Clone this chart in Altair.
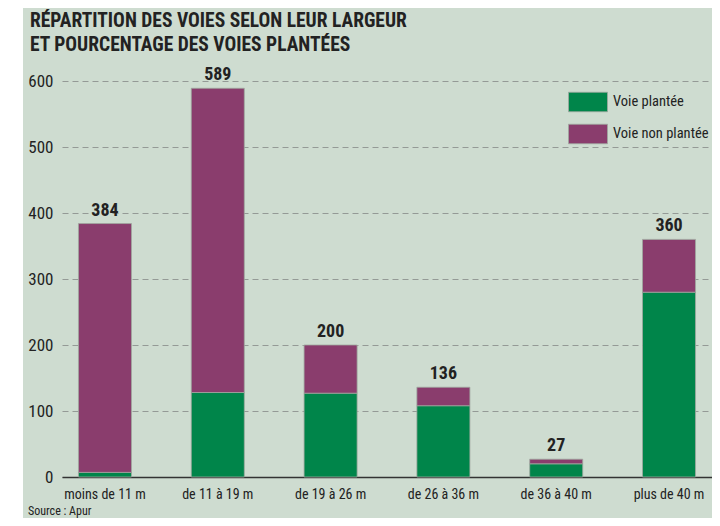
import altair as alt
import pandas as pd

categories = ["moins de 11 m", "de 11 à 19 m", "de 19 à 26 m", "de 26 à 36 m", "de 36 à 40 m", "plus de 40 m"]
totals = [384, 589, 200, 136, 27, 360]
planted = [7, 128, 127, 108, 20, 280]
series = ["Voie plantée", "Voie non plantée"]
colors = ["#00854a", "#8a3d6d"]
y_ticks = [0, 100, 200, 300, 400, 500, 600]
title_lines = ["RÉPARTITION DES VOIES SELON LEUR LARGEUR", "ET POURCENTAGE DES VOIES PLANTÉES"]
source_text = ["Source : Apur"]

FONT = "Roboto Condensed, Liberation Sans Narrow, DejaVu Sans Condensed, sans-serif"
BG = "#cedcd0"
INK = "#222222"

rows = []
for c, t, p in zip(categories, totals, planted):
    rows.append({"cat": c, "serie": series[0], "val": p, "ord": 0})
    rows.append({"cat": c, "serie": series[1], "val": t - p, "ord": 1})
df = pd.DataFrame(rows)
tot = pd.DataFrame({"cat": categories, "total": totals})

x_enc = alt.X(
    "cat:N", sort=categories,
    scale=alt.Scale(paddingInner=0.53, paddingOuter=0.146),
    axis=alt.Axis(title=None, labelAngle=0, labelFontSize=14, labelColor=INK, labelFont=FONT,
                  labelPadding=10, ticks=False, domainColor="#333333", domainWidth=1.5),
)

bars = alt.Chart(df).mark_bar(stroke="#9fa8a0", strokeWidth=0.8).encode(
    x=x_enc,
    y=alt.Y("val:Q", stack="zero",
            scale=alt.Scale(domain=[0, 600], nice=False),
            axis=alt.Axis(title=None, values=y_ticks, grid=True, gridDash=[6, 4], gridColor="#949a96",
                          gridWidth=1, ticks=False, domain=False, labelPadding=9, labelFontSize=17,
                          labelColor=INK, labelFont=FONT)),
    color=alt.Color("serie:N", scale=alt.Scale(domain=series, range=colors),
                    legend=alt.Legend(title=None, orient="none", legendX=506, legendY=1,
                                      symbolType="M-1,-0.5H1V0.5H-1Z", symbolSize=1521,
                                      symbolStrokeColor="#9fa8a0", symbolStrokeWidth=0.8,
                                      symbolOpacity=1, labelFontSize=14.5, labelFont=FONT,
                                      labelColor=INK, labelOffset=5, rowPadding=-19,
                                      fillColor=BG)),
    order=alt.Order("ord:Q"),
)

labels = alt.Chart(tot).mark_text(baseline="alphabetic", dy=-8, fontSize=18, fontWeight="bold",
                                  font=FONT, color=INK).encode(
    x=alt.X("cat:N", sort=categories),
    y=alt.Y("total:Q"),
    text=alt.Text("total:Q"),
)

t1 = alt.Chart(pd.DataFrame({"t": [title_lines[0]]})).mark_text(
    align="left", baseline="middle", fontSize=19.5, fontWeight="bold", font=FONT, color=INK
).encode(x=alt.value(-32), y=alt.value(-60), text="t:N")
t2 = alt.Chart(pd.DataFrame({"t": [title_lines[1]]})).mark_text(
    align="left", baseline="middle", fontSize=19.5, fontWeight="bold", font=FONT, color=INK
).encode(x=alt.value(-32), y=alt.value(-36), text="t:N")
src = alt.Chart(pd.DataFrame({"t": source_text})).mark_text(
    align="left", baseline="bottom", fontSize=12, font=FONT, color=INK
).encode(x=alt.value(-34), y=alt.value(437), text="t:N")
strip = alt.Chart(pd.DataFrame({"t": [0]})).mark_rect(color="white").encode(
    x=alt.value(-54), x2=alt.value(-39), y=alt.value(-73), y2=alt.value(437)
)

chart = alt.layer(strip, bars, labels, t1, t2, src).properties(
    width=650, height=396, autosize="none",
    padding={"left": 54, "top": 73, "right": 0, "bottom": 41},
    background=BG,
).configure_view(stroke=None)

chart.save("out.html", embed_options={"renderer": "svg", "actions": False})
